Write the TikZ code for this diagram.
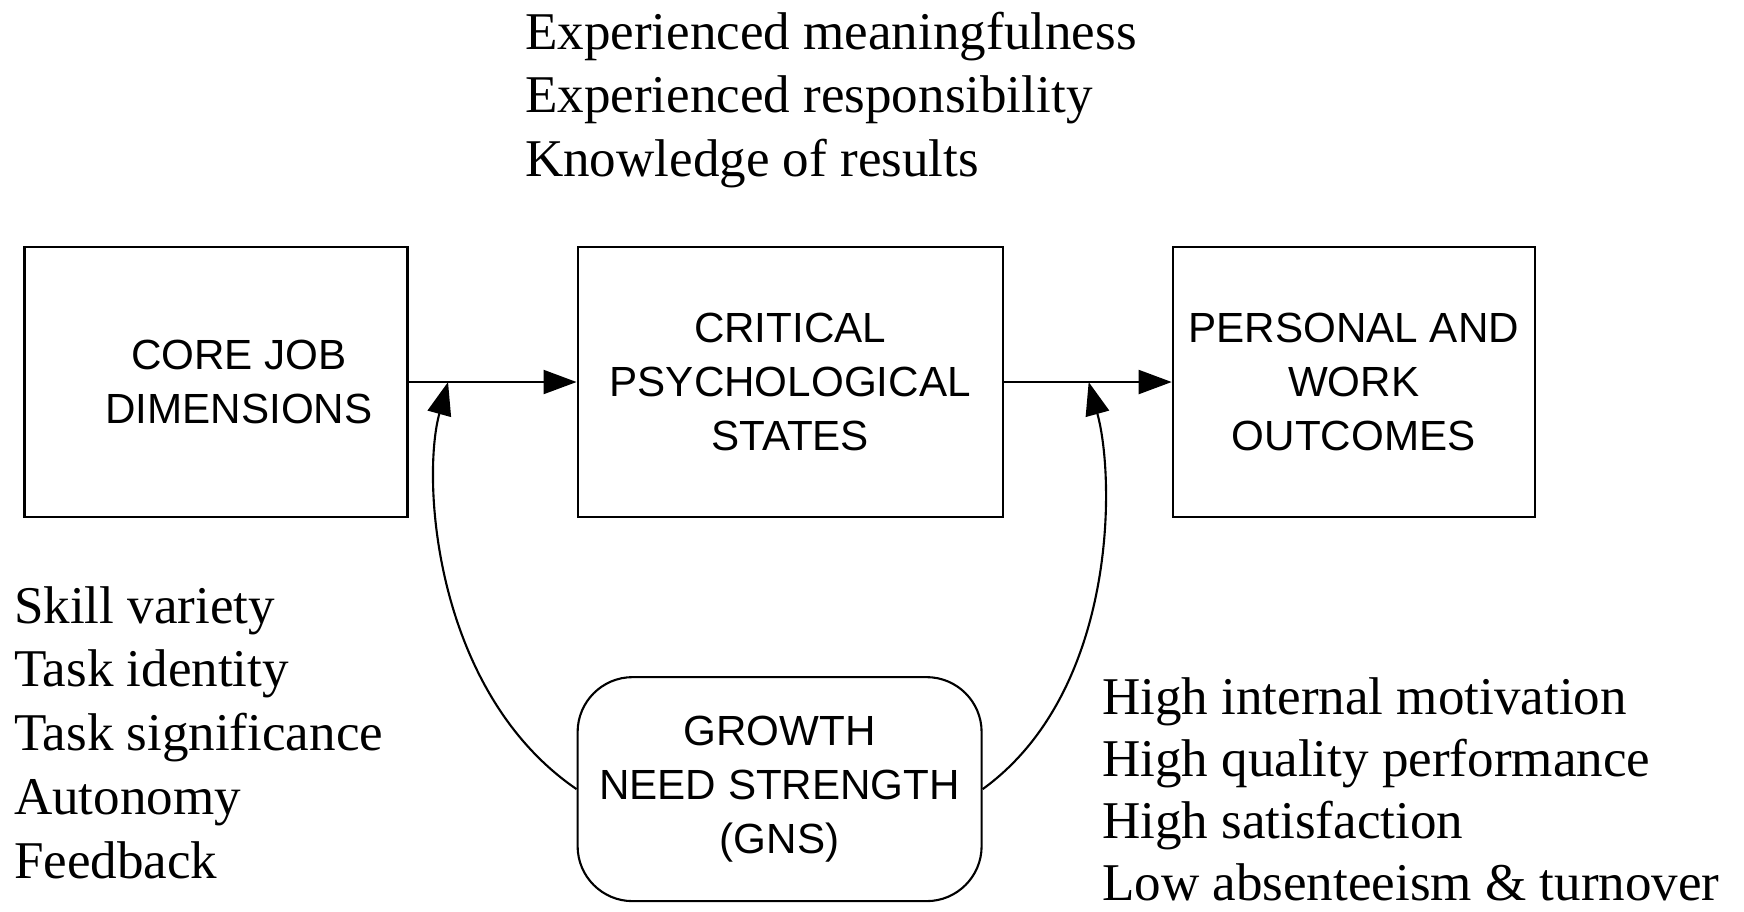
\documentclass[tikz,border=0pt]{standalone}
\usepackage{fontspec}
\setmainfont{Liberation Serif}
\setsansfont{Liberation Sans}
\usetikzlibrary{positioning}
\usetikzlibrary{arrows.meta,calc}
\tikzset{
    jcm/.style={>={Triangle[length=3.3mm,width=2.4mm]},semithick,
                     node distance=1.68cm},
    stagebox/.style={rectangle,draw,minimum height=2.7cm,align=center,
                     font=\sffamily\fontsize{12}{15.4}\selectfont},
    gnsbox/.style={rectangle,draw,rounded corners=0.55cm,minimum width=4.04cm,
                     minimum height=2.24cm,align=center,
                     font=\sffamily\fontsize{12}{15.4}\selectfont},
    listitem/.style={anchor=base west,inner sep=0pt,
                     font=\fontsize{15.1}{18}\selectfont},
    }

\begin{document}
\begin{tikzpicture}[jcm]
            \useasboundingbox (0,0) rectangle (17.44,-9.11);

            \node[stagebox, minimum width=3.83cm] (core) at (2.16,-3.82) {};
            \node[stagebox, minimum width=4.25cm] (crit) [right=of core] {CRITICAL\\PSYCHOLOGICAL\\STATES};
            \node[stagebox, minimum width=3.62cm] (outc) [right=of crit] {PERSONAL AND\\WORK\\OUTCOMES};
            \node[gnsbox] (gns) [below right=1.58cm and 0cm of crit.south west] {GROWTH\\NEED STRENGTH\\(GNS)};
            \node[stagebox, draw=none, minimum height=0pt] (corelbl) at ([xshift=0.23cm]core.center) {CORE JOB\\DIMENSIONS};

            % the three lists of items
            \foreach \txt [count=\i] in {Experienced meaningfulness, Experienced responsibility, Knowledge of results}
                \node[listitem] (st\i) at (5.24,{-0.49-0.635*(\i-1)}) {\txt};
            \foreach \txt [count=\i] in {Skill variety, Task identity, Task significance, Autonomy, Feedback}
                \node[listitem] (dim\i) at (0.13,{-6.23-0.638*(\i-1)}) {\txt};
            \foreach \txt [count=\i] in {High internal motivation, High quality performance, High satisfaction, Low absenteeism \& turnover}
                \node[listitem] (res\i) at (11.01,{-7.14-0.62*(\i-1)}) {\txt};

            \coordinate (jl) at ($(core.east)!0.235!(crit.west)$);
            \coordinate (jr) at ($(crit.east)!0.506!(outc.west)$);

            \path[->] (core) edge[] (crit);
            \path[->] (crit) edge[] (outc);
            \draw[->] (gns.west) .. controls +(-1.42,0.97) and +(-0.27,-0.98) .. (jl);
            \draw[->] (gns.east) .. controls +(1.34,0.97) and +(0.27,-0.98) .. (jr);
        \end{tikzpicture}
\end{document}
